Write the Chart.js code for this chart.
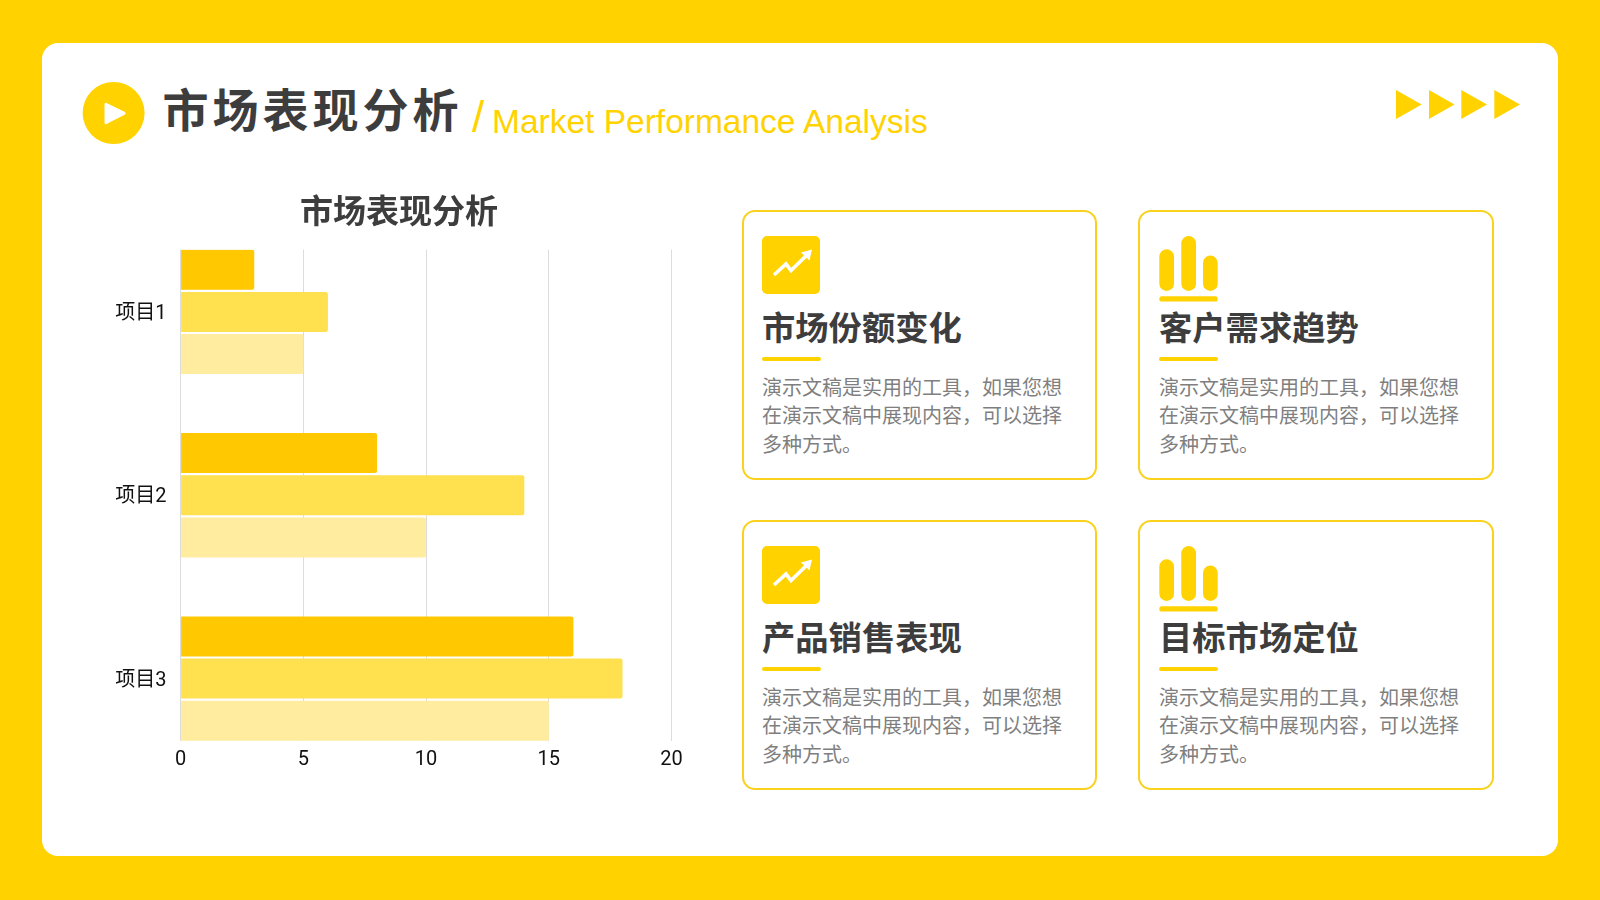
<!DOCTYPE html>
<html lang="zh-CN">
<head>
<meta charset="utf-8">
<title>市场表现分析</title>
<script src="https://cdn.jsdelivr.net/npm/chart.js@4"></script>
<style>
html,body{margin:0;padding:0;width:1600px;height:900px;overflow:hidden;background:#FFD200;font-family:"Noto Sans CJK SC","Noto Sans",sans-serif;}
#panel{position:absolute;left:42px;top:43px;width:1516px;height:813px;background:#fff;border-radius:16px;}
.abs{position:absolute;white-space:nowrap;}
#h1{left:162.5px;top:75px;font-size:46px;line-height:64px;font-weight:700;letter-spacing:4px;color:#3d3d3d;}
#slash{left:472px;top:89px;font-family:"Liberation Sans",Arial,sans-serif;font-size:44px;line-height:56px;color:#FFD200;}
#en{left:492px;top:100px;font-family:"Liberation Sans",Arial,sans-serif;font-size:33.5px;line-height:44px;color:#FFD200;}
#chart{position:absolute;left:90px;top:185px;}
.card{position:absolute;box-sizing:border-box;width:355.5px;height:270px;border:2.8px solid #FAD21E;border-radius:13px;background:#fff;}
.ctitle{font-size:33.3px;line-height:44px;font-weight:700;color:#3d3d3d;}
.cbar{position:absolute;width:59px;height:4px;border-radius:2px;background:#FFD200;}
.cline{font-size:20px;line-height:28px;color:#7f7f7f;}
svg{position:absolute;overflow:visible;}
</style>
</head>
<body>
<div id="panel"></div>
<svg style="left:0;top:0" width="1600" height="900">
  <circle cx="113.6" cy="113" r="31" fill="#FFD200"/>
  <path d="M106.5 103 L125 112 Q126.5 113 125 114.5 L106.5 124 Q104.5 125 104.5 122.5 L104.5 104.5 Q104.5 102 106.5 103 Z" fill="#fff"/>
  <g fill="#FFD200">
    <polygon points="1396,90 1421.7,104.5 1396,119"/>
    <polygon points="1429,90 1454.5,104.5 1429,119"/>
    <polygon points="1461.3,90 1487,104.5 1461.3,119"/>
    <polygon points="1494.3,90 1520,104.5 1494.3,119"/>
  </g>
</svg>
<div class="abs" id="h1">市场表现分析</div>
<div class="abs" id="slash">/</div>
<div class="abs" id="en">Market Performance Analysis</div>
<canvas id="chart" width="620" height="600"></canvas>
<div id="cards"></div>
<script>
const categories = ['项目1', '项目2', '项目3'];
const seriesA = [3, 8, 16];
const seriesB = [6, 14, 18];
const seriesC = [5, 10, 15];
const xTicks = [0, 5, 10, 15, 20];
const chartTitle = '市场表现分析';
const cardTitles = ['市场份额变化', '客户需求趋势', '产品销售表现', '目标市场定位'];
const cardLines = ['演示文稿是实用的工具，如果您想', '在演示文稿中展现内容，可以选择', '多种方式。'];
const cardIcons = ['trend', 'bars', 'trend', 'bars'];

const toPoints = vals => vals.map((v, i) => ({ x: v, y: i }));
const tickFont = { family: 'Roboto,"Noto Sans CJK SC","Noto Sans",sans-serif', size: 20 };

const shiftTitle = {
  id: 'shiftTitle',
  afterLayout(chart) {
    chart.titleBlock.left += 18.2;
    chart.titleBlock.right += 18.2;
  }
};

new Chart(document.getElementById('chart'), {
  type: 'bar',
  plugins: [shiftTitle],
  data: {
    datasets: [
      { label: '系列1', data: toPoints(seriesA), backgroundColor: '#FFC800' },
      { label: '系列2', data: toPoints(seriesB), backgroundColor: '#FFE04F' },
      { label: '系列3', data: toPoints(seriesC), backgroundColor: '#FFEC9E' }
    ]
  },
  options: {
    indexAxis: 'y',
    responsive: false,
    animation: false,
    devicePixelRatio: 1,
    layout: { padding: { left: 0, right: 38.4, top: 0, bottom: 0 } },
    categoryPercentage: 0.69,
    barPercentage: 0.948,
    borderRadius: 2,
    plugins: {
      legend: { display: false },
      tooltip: { enabled: false },
      title: {
        display: true,
        text: chartTitle,
        color: '#3d3d3d',
        font: { family: '"Noto Sans CJK SC","Noto Sans",sans-serif', size: 33, weight: '700' },
        padding: { top: 6, bottom: 18.9 }
      }
    },
    scales: {
      x: {
        type: 'linear',
        position: 'bottom',
        min: 0,
        max: 20,
        afterBuildTicks: s => { s.ticks = xTicks.map(v => ({ value: v })); },
        afterFit: s => { s.height = 44; },
        grid: { color: '#dcdcdc', lineWidth: 1, drawTicks: false },
        border: { display: false },
        ticks: { color: '#111', font: tickFont, padding: 7, maxRotation: 0 }
      },
      y: {
        type: 'linear',
        reverse: true,
        offset: false,
        bounds: 'data',
        min: -0.3406,
        max: 2.3406,
        afterBuildTicks: s => { s.ticks = categories.map((_, i) => ({ value: i })); },
        afterFit: s => { s.width = 90.6; },
        grid: { display: false },
        border: { display: false },
        ticks: { color: '#111', font: tickFont, padding: 6, labelOffset: 2, callback: v => categories[v] }
      }
    }
  }
});

const cardPos = [[741.5, 210], [1138, 210], [741.5, 520], [1138, 520]];
const host = document.getElementById('cards');
cardTitles.forEach((t, i) => {
  const [x, y] = cardPos[i];
  const isTrend = cardIcons[i] === 'trend';
  const tx = isTrend ? 762 : 1159;
  let icon;
  if (isTrend) {
    icon = `<svg style="left:${tx}px;top:${y + 25.7}px" width="58" height="58">
      <rect width="58" height="58" rx="5" fill="#FFD200"/>
      <path d="M12 39 L24 28 L29 34.5 L47 17" fill="none" stroke="#fff" stroke-width="3.6"/>
      <polygon points="50,13.5 47.5,24.5 39,16.5" fill="#fff"/></svg>`;
  } else {
    icon = `<svg style="left:${tx}px;top:${y + 25.7}px" width="60" height="66" fill="#FFD200">
      <rect x="0.3" y="13.3" width="14.7" height="41.7" rx="7.3"/>
      <rect x="22.3" y="0" width="14.7" height="55" rx="7.3"/>
      <rect x="44" y="19.6" width="14.7" height="35.4" rx="7.3"/>
      <rect x="0.3" y="60.3" width="58.4" height="5.3" rx="2.6"/></svg>`;
  }
  host.insertAdjacentHTML('beforeend', `
    <div class="card" style="left:${x}px;top:${y}px"></div>${icon}
    <div class="abs ctitle" style="left:${tx}px;top:${y + 94}px">${t}</div>
    <div class="cbar" style="left:${tx}px;top:${y + 147}px"></div>
    ${cardLines.map((l, k) => `<div class="abs cline" style="left:${tx}px;top:${y + 162.5 + k * 28.6}px">${l}</div>`).join('')}
  `);
});
</script>
</body>
</html>
